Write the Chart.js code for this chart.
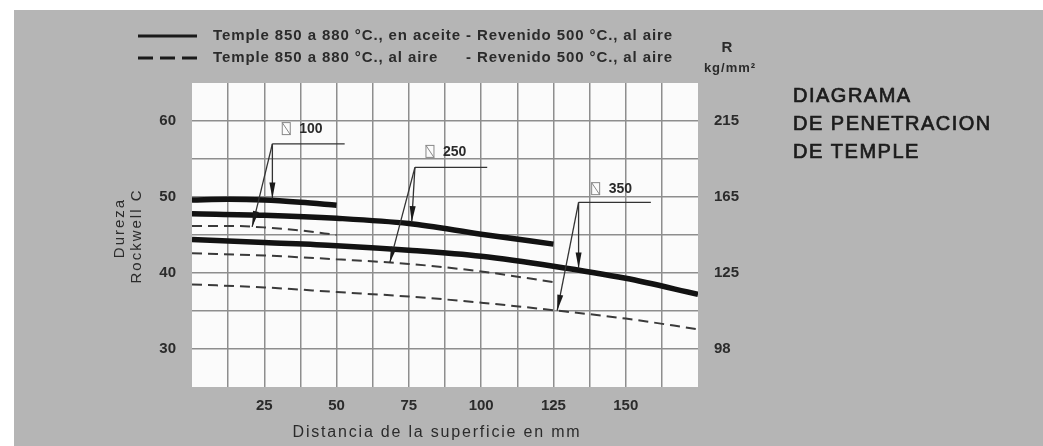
<!DOCTYPE html>
<html>
<head>
<meta charset="utf-8">
<script src="https://cdn.jsdelivr.net/npm/chart.js@4.4.1/dist/chart.umd.min.js"></script>
<style>
  body { margin: 0; background: #fff; }
  canvas { display: block; }
</style>
</head>
<body>
<canvas id="myChart" width="1043" height="446"></canvas>
<script>
// DATOS

// distancia de la superficie (mm) para cada diametro
var dist100 = [0, 12.5, 25, 37.5, 50];
var dist250 = [0, 25, 50, 75, 100, 125];
var dist350 = [0, 25, 50, 75, 100, 125, 150, 175];

// dureza Rockwell C - temple en aceite (lineas llenas)
var aceite100 = [49.6, 49.7, 49.6, 49.3, 48.9];
var aceite250 = [47.8, 47.6, 47.2, 46.5, 45.1, 43.8];
var aceite350 = [44.4, 44.0, 43.6, 43.0, 42.2, 40.9, 39.3, 37.2];

// dureza Rockwell C - temple al aire (lineas de trazos)
var aire100 = [46.2, 46.2, 46.0, 45.6, 45.0];
var aire250 = [42.6, 42.3, 41.8, 41.2, 40.2, 38.8];
var aire350 = [38.5, 38.1, 37.5, 36.9, 36.1, 35.1, 34.0, 32.6];

// ticks
var ticksDureza = [30, 40, 50, 60];
var ticksR = ['98', '125', '165', '215'];

// rotulos de diametro (en unidades de los ejes)
var diametros = ['100', '250', '350'];
var esquinaX = [27.8, 77.1, 133.7];
var esquinaY = [57.0, 53.9, 49.3];
var finGuiaX = [52.8, 102.1, 158.7];
var rotuloX = [32.6, 82.3, 139.6];
var rotuloY = [59.0, 56.0, 51.1];
var flechaAceiteX = [27.8, 76.0, 133.7];
var flechaAireX = [20.8, 68.4, 126.3];

var seriesAceite = [[dist100, aceite100], [dist250, aceite250], [dist350, aceite350]];
var seriesAire = [[dist100, aire100], [dist250, aire250], [dist350, aire350]];

var FONT = 'Liberation Sans, Arial, Helvetica, sans-serif';
var TEXTO = '#2b2b2b';

function puntos(xs, ys) {
  return xs.map(function(x, i) { return { x: x, y: ys[i] }; });
}

// valor de la serie en x (para apoyar la punta de la flecha)
function valorEn(serie, x) {
  var xs = serie[0], ys = serie[1];
  for (var i = 0; i < xs.length - 1; i++) {
    if (x >= xs[i] && x <= xs[i + 1]) {
      var t = (x - xs[i]) / (xs[i + 1] - xs[i]);
      return ys[i] + t * (ys[i + 1] - ys[i]);
    }
  }
  return ys[ys.length - 1];
}

function flecha(ctx, x0, y0, x1, y1) {
  ctx.beginPath();
  ctx.moveTo(x0, y0);
  ctx.lineTo(x1, y1);
  ctx.stroke();
  var ang = Math.atan2(y1 - y0, x1 - x0);
  var largo = 16, ancho = 3;
  ctx.save();
  ctx.translate(x1, y1);
  ctx.rotate(ang);
  ctx.beginPath();
  ctx.moveTo(0, 0);
  ctx.lineTo(-largo, -ancho);
  ctx.lineTo(-largo, ancho);
  ctx.closePath();
  ctx.fill();
  ctx.restore();
}

// FONDO, TEXTOS Y ROTULOS

var lamina = {
  id: 'lamina',
  beforeDraw: function(chart) {
    var ctx = chart.ctx, a = chart.chartArea;
    ctx.save();
    ctx.fillStyle = '#ffffff';
    ctx.fillRect(0, 0, chart.width, chart.height);
    ctx.fillStyle = '#b5b5b5';
    ctx.fillRect(14, 10, chart.width - 14, chart.height - 10);
    ctx.fillStyle = '#fbfbfb';
    ctx.fillRect(a.left, a.top, a.right - a.left, a.bottom - a.top);
    ctx.restore();
  },
  afterDatasetsDraw: function(chart) {
    var ctx = chart.ctx;
    var sx = chart.scales.x, sy = chart.scales.y;
    ctx.save();
    ctx.strokeStyle = '#333';
    ctx.fillStyle = '#1a1a1a';
    ctx.lineWidth = 1.3;
    diametros.forEach(function(d, i) {
      var cx = sx.getPixelForValue(esquinaX[i]);
      var cy = sy.getPixelForValue(esquinaY[i]);
      // guia horizontal
      ctx.beginPath();
      ctx.moveTo(cx, cy);
      ctx.lineTo(sx.getPixelForValue(finGuiaX[i]), cy);
      ctx.stroke();
      // flecha a la curva en aceite
      var ax = flechaAceiteX[i];
      flecha(ctx, cx, cy, sx.getPixelForValue(ax), sy.getPixelForValue(valorEn(seriesAceite[i], ax)) - 2);
      // flecha a la curva al aire
      var bx = flechaAireX[i];
      flecha(ctx, cx, cy, sx.getPixelForValue(bx), sy.getPixelForValue(valorEn(seriesAire[i], bx)));
      // simbolo y diametro
      var px = sx.getPixelForValue(rotuloX[i]);
      var py = sy.getPixelForValue(rotuloY[i]);
      ctx.save();
      ctx.strokeStyle = '#888';
      ctx.lineWidth = 1;
      ctx.strokeRect(px - 4, py - 6, 8, 12);
      ctx.beginPath();
      ctx.moveTo(px - 4, py - 6);
      ctx.lineTo(px + 4, py + 6);
      ctx.stroke();
      ctx.restore();
      ctx.font = 'bold 14px ' + FONT;
      ctx.fillStyle = TEXTO;
      ctx.textBaseline = 'middle';
      ctx.textAlign = 'left';
      ctx.fillText(d, px + 13, py + 1);
      ctx.fillStyle = '#1a1a1a';
    });
    ctx.restore();
  },
  afterDraw: function(chart) {
    var ctx = chart.ctx, a = chart.chartArea;
    ctx.save();
    ctx.fillStyle = TEXTO;
    ctx.strokeStyle = '#1a1a1a';

    // leyenda
    ctx.lineWidth = 3;
    ctx.beginPath();
    ctx.moveTo(138, 36); ctx.lineTo(197, 36);
    ctx.stroke();
    ctx.setLineDash([15, 7]);
    ctx.beginPath();
    ctx.moveTo(138, 58); ctx.lineTo(197, 58);
    ctx.stroke();
    ctx.setLineDash([]);

    ctx.font = 'bold 15px ' + FONT;
    ctx.letterSpacing = '0.9px';
    ctx.textBaseline = 'middle';
    ctx.textAlign = 'left';
    var linea1a = 'Temple 850 a 880 °C., en aceite ';
    ctx.fillText(linea1a + '- Revenido 500 °C., al aire', 213, 36);
    ctx.fillText('Temple 850 a 880 °C., al aire', 213, 58);
    ctx.fillText('- Revenido 500 °C., al aire', 213 + ctx.measureText(linea1a).width, 58);

    // unidades eje derecho
    ctx.letterSpacing = '0px';
    ctx.textAlign = 'center';
    ctx.font = 'bold 15px ' + FONT;
    ctx.fillText('R', 727, 48);
    ctx.font = 'bold 13px ' + FONT;
    ctx.letterSpacing = '1px';
    ctx.fillText('kg/mm²', 730, 68);

    // titulo
    ctx.textAlign = 'left';
    ctx.textBaseline = 'alphabetic';
    ctx.font = '20px ' + FONT;
    ctx.letterSpacing = '1.5px';
    ctx.fillStyle = '#1c1c1c';
    ctx.strokeStyle = '#1c1c1c';
    ctx.lineWidth = 0.7;
    [['DIAGRAMA', 102], ['DE PENETRACION', 130], ['DE TEMPLE', 158]].forEach(function(l) {
      ctx.fillText(l[0], 793, l[1]);
      ctx.strokeText(l[0], 793, l[1]);
    });

    // titulo eje x
    ctx.fillStyle = TEXTO;
    ctx.textAlign = 'center';
    ctx.textBaseline = 'middle';
    ctx.font = '16px ' + FONT;
    ctx.letterSpacing = '1.8px';
    ctx.fillText('Distancia de la superficie en mm', (a.left + a.right) / 2 - 8, 433);

    // titulo eje y
    ctx.font = '15px ' + FONT;
    ctx.letterSpacing = '2px';
    ctx.save();
    ctx.translate(120, 228);
    ctx.rotate(-Math.PI / 2);
    ctx.fillText('Dureza', 0, 0);
    ctx.restore();
    ctx.save();
    ctx.translate(137, 236);
    ctx.rotate(-Math.PI / 2);
    ctx.fillText('Rockwell C', 0, 0);
    ctx.restore();

    ctx.restore();
  }
};

// GRAFICO

function gridColor(extremos) {
  return function(c) {
    return extremos.indexOf(c.tick.value) >= 0 ? 'rgba(0,0,0,0)' : '#8e8e8e';
  };
}

var tickFont = { family: FONT, size: 15, weight: 'bold' };

var ctx = document.getElementById('myChart').getContext('2d');

var chart = new Chart(ctx, {
  type: 'line',
  data: {
    datasets: [
      { label: 'aire 100', data: puntos(dist100, aire100) },
      { label: 'aire 250', data: puntos(dist250, aire250) },
      { label: 'aire 350', data: puntos(dist350, aire350) },
      { label: 'aceite 100', data: puntos(dist100, aceite100), solid: true },
      { label: 'aceite 250', data: puntos(dist250, aceite250), solid: true },
      { label: 'aceite 350', data: puntos(dist350, aceite350), solid: true }
    ].map(function(ds) {
      ds.borderColor = ds.solid ? '#121212' : '#3a3a3a';
      ds.borderWidth = ds.solid ? 5.5 : 2;
      ds.borderDash = ds.solid ? [] : [10, 6];
      ds.pointRadius = 0;
      ds.cubicInterpolationMode = 'monotone';
      ds.fill = false;
      return ds;
    })
  },
  options: {
    responsive: false,
    animation: false,
    devicePixelRatio: 1,
    layout: { padding: { top: 83, left: 0, right: 0, bottom: 0 } },
    plugins: {
      legend: { display: false },
      title: { display: false },
      tooltip: { enabled: false }
    },
    scales: {
      x: {
        type: 'linear',
        min: 0,
        max: 175,
        afterFit: function(s) { s.height = 59; },
        afterBuildTicks: function(s) {
          var t = [];
          for (var v = 0; v <= 175; v += 12.5) t.push({ value: v });
          s.ticks = t;
        },
        grid: { color: gridColor([0, 175]), lineWidth: 1.5, drawTicks: false },
        border: { display: false },
        ticks: {
          autoSkip: false,
          maxRotation: 0,
          padding: 10,
          color: TEXTO,
          font: tickFont,
          callback: function(v) { return (v % 25 === 0 && v > 0 && v < 175) ? v : ''; }
        }
      },
      y: {
        position: 'left',
        min: 25,
        max: 65,
        afterFit: function(s) { s.width = 192; },
        afterBuildTicks: function(s) {
          var t = [];
          for (var v = 25; v <= 65; v += 5) t.push({ value: v });
          s.ticks = t;
        },
        grid: { color: gridColor([25, 65]), lineWidth: 1.5, drawTicks: false },
        border: { display: false },
        ticks: {
          padding: 16,
          color: TEXTO,
          font: tickFont,
          callback: function(v) { return ticksDureza.indexOf(v) >= 0 ? v : ''; }
        }
      },
      y2: {
        position: 'right',
        min: 25,
        max: 65,
        afterFit: function(s) { s.width = 345; },
        afterBuildTicks: function(s) {
          s.ticks = ticksDureza.map(function(v) { return { value: v }; });
        },
        grid: { display: false, drawTicks: false },
        border: { display: false },
        ticks: {
          padding: 16,
          color: TEXTO,
          font: tickFont,
          callback: function(v) {
            var i = ticksDureza.indexOf(v);
            return i >= 0 ? ticksR[i] : '';
          }
        }
      }
    }
  },
  plugins: [lamina]
});
</script>
</body>
</html>
